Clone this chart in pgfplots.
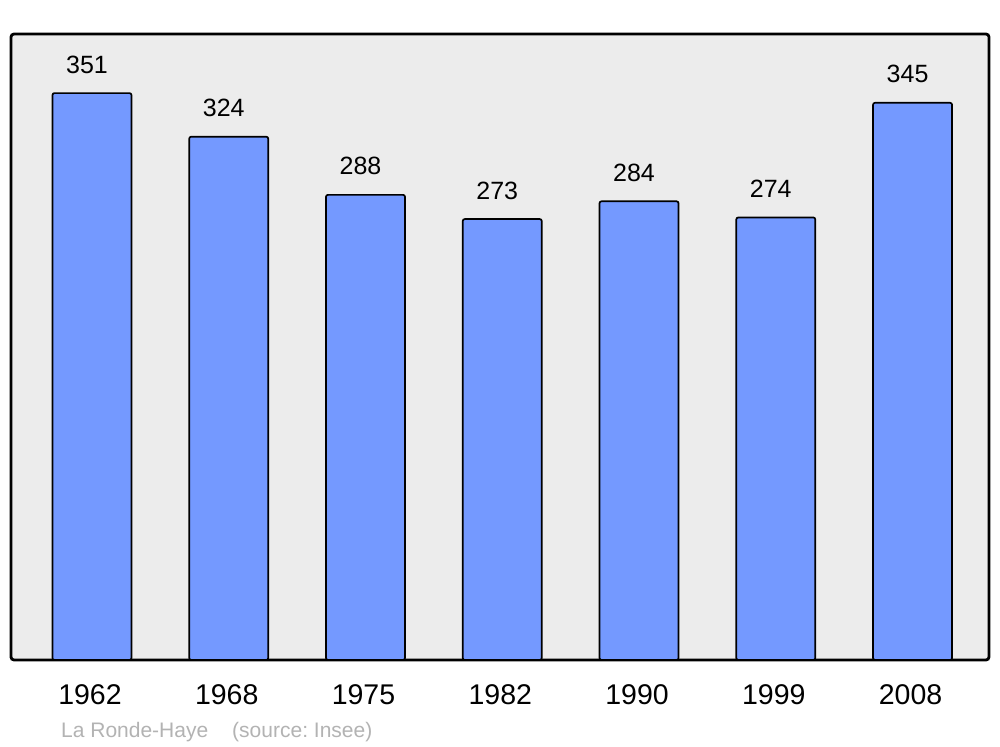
\documentclass[border=0pt]{standalone}
\usepackage{pgfplots}
\pgfplotsset{compat=1.18}
\usepackage{fontspec}
\setmainfont{Liberation Sans}
\definecolor{bggray}{HTML}{ECECEC}
\definecolor{barblue}{HTML}{7499FF}
\definecolor{srcgray}{HTML}{B3B3B3}
\frenchspacing
\begin{document}
\begin{tikzpicture}
\path[use as bounding box, fill=white] (0,0) rectangle (1000bp,747bp);
\begin{axis}[
  at={(11bp,87bp)}, anchor=south west,
  scale only axis, width=978bp, height=626bp,
  xmin=-0.592, xmax=6.559, ymin=0, ymax=387.6,
  axis background/.style={fill=bggray, rounded corners=3bp},
  axis line style={line width=2.8bp, rounded corners=3bp},
  ytick=\empty,
  xtick={0,1,2,3,4,5,6},
  xticklabels={1962,1968,1975,1982,1990,1999,2008},
  major tick length=0pt,
  xticklabel style={font=\fontsize{28.5bp}{32bp}\selectfont, anchor=base, yshift=-45bp, xshift=-2bp},
  /pgf/number format/assume math mode=true,
  nodes near coords,
  nodes near coords style={font=\fontsize{25bp}{28bp}\selectfont, anchor=base, inner sep=0pt, yshift=20bp, xshift=-5bp, text=black},
]
\addplot[ybar, bar width=79bp, draw=black, line width=1.7bp, fill=barblue, rounded corners=2bp]
  coordinates {(0,351) (1,324) (2,288) (3,273) (4,284) (5,274) (6,345)};
\end{axis}
\node[anchor=base west, inner sep=0pt, text=srcgray, font=\fontsize{21bp}{24bp}\selectfont] at (61bp,747bp-737bp) {La Ronde-Haye\hspace{24bp}(source: Insee)};
\end{tikzpicture}
\end{document}
